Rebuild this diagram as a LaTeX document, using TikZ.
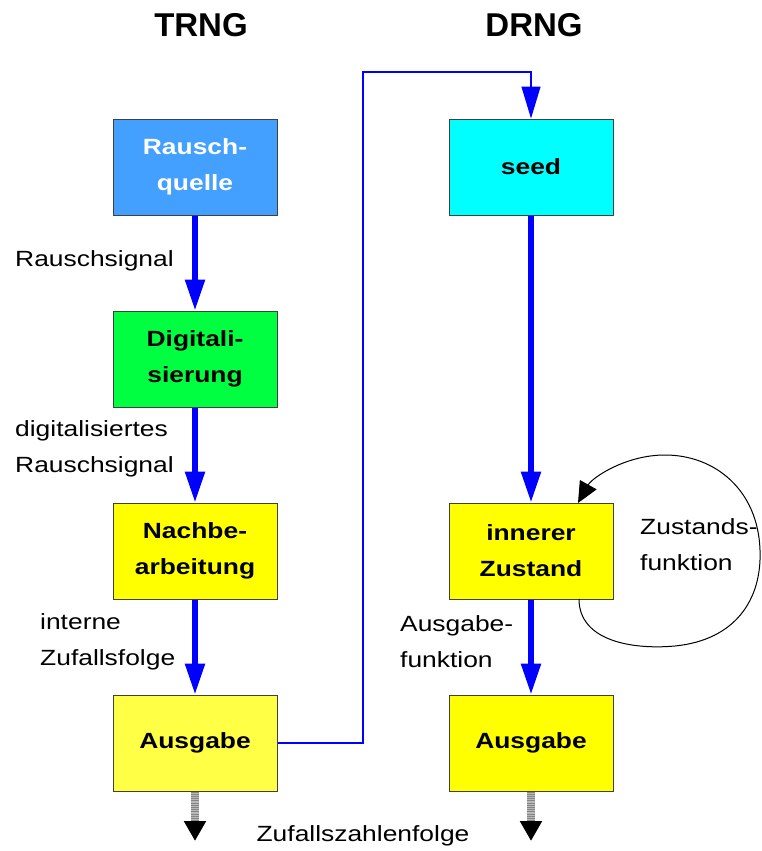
\documentclass[tikz,border=0pt]{standalone}
\usepackage{fontspec}
\setmainfont{Liberation Sans}[FakeStretch=1.2]
\newfontfamily\headfont{Liberation Sans}
\usetikzlibrary{arrows.meta}

\definecolor{noiseblue}{RGB}{68,160,255}
\definecolor{digitgreen}{RGB}{0,255,64}
\definecolor{seedcyan}{RGB}{0,255,255}
\definecolor{boxyellow}{RGB}{255,255,0}
\definecolor{paleyellow}{RGB}{255,255,70}
\definecolor{flowblue}{RGB}{0,0,255}

\tikzset{
  stage/.style={draw=black!75, line width=1pt, minimum width=164pt, minimum height=96pt,
    inner sep=0pt, align=center, font=\fontsize{22}{36}\selectfont\bfseries},
  caption/.style={inner sep=0pt, align=left, font=\fontsize{22}{36}\selectfont},
  heading/.style={inner sep=0pt, font=\headfont\fontsize{33}{38}\selectfont\bfseries},
  flow/.style={draw=flowblue, line width=5.5pt, -{Triangle[width=19pt,length=31pt]}},
  link/.style={draw=flowblue, line width=1.3pt, -{Triangle[width=19pt,length=32pt]}},
  loopline/.style={draw=black, line width=1pt, -{Triangle[width=19pt,length=21pt]}},
  outflow/.style={draw=gray!95, line width=8pt, dash pattern=on 1pt off 1.2pt,
    -{Triangle[width=21pt,length=20pt,color=black]},
    preaction={draw=gray!55, line width=8pt, -, shorten >=20pt}},
}

\begin{document}
\begin{tikzpicture}[x=1pt,y=-1pt]
\useasboundingbox (0,0) rectangle (761,851);

% column headings
\node[heading] (trng) at (201,25) {TRNG};
\node[heading] (drng) at (534,25) {DRNG};

% TRNG chain
\node[stage, fill=noiseblue, text=white] (noise) at (195,167) {Rausch-\\quelle};
\node[stage, fill=digitgreen] (digit) at (195,359) {Digitali-\\sierung};
\node[stage, fill=boxyellow] (post) at (195,551) {Nachbe-\\arbeitung};
\node[stage, fill=paleyellow] (outT) at (195,743) {Ausgabe};

% DRNG chain
\node[stage, fill=seedcyan] (seed) at (531,167) {seed};
\node[stage, fill=boxyellow] (state) at (531,551) {innerer\\Zustand};
\node[stage, fill=boxyellow] (outD) at (531,743) {Ausgabe};

% connector labels
\node[caption, anchor=west] (lblA) at (15,261) {Rauschsignal};
\node[caption, anchor=west] (lblB) at (15,449) {digitalisiertes\\Rauschsignal};
\node[caption, anchor=west] (lblC) at (40,642) {interne\\Zufallsfolge};
\node[caption, anchor=west] (lblD) at (400,642) {Ausgabe-\\funktion};
\node[caption, anchor=west] (lblE) at (640,545) {Zustands-\\funktion};
\node[caption] (lblF) at (363,836) {Zufallszahlenfolge};

% main data flow
\draw[flow] (noise) -- (digit);
\draw[flow] (digit) -- (post);
\draw[flow] (post) -- (outT);
\draw[flow] (seed) -- (state);
\draw[flow] (state) -- (outD);

% TRNG output seeds the DRNG
\coordinate (feedTop) at (363,72);
\draw[link] (outT.east) -| (feedTop) -| (seed.north);

% state transition loop
\coordinate (loopStart) at (579,599);
\coordinate (loopEnd) at (578,503);
\draw[loopline] (loopStart) .. controls (579,640) and (630,650) .. (675,646)
  .. controls (735,640) and (762,600) .. (760,550)
  .. controls (758,490) and (715,455) .. (665,455)
  .. controls (625,455) and (592,478) .. (loopEnd);

% outputs
\coordinate (sinkT) at (195,841);
\coordinate (sinkD) at (531,841);
\draw[outflow] (outT.south) -- (sinkT);
\draw[outflow] (outD.south) -- (sinkD);
\end{tikzpicture}
\end{document}
